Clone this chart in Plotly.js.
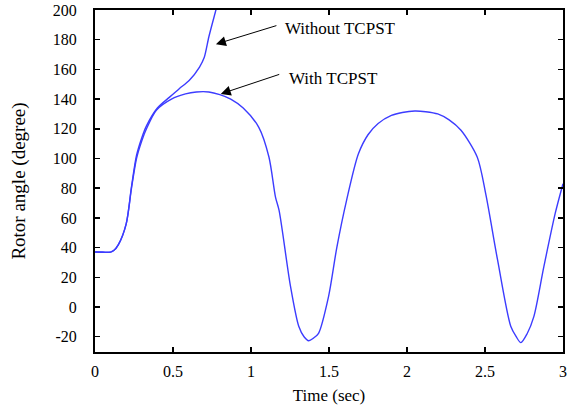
<!DOCTYPE html>
<html>
<head>
<meta charset="utf-8">
<script src="https://cdn.plot.ly/plotly-3.0.1.min.js"></script>
<style>html,body{margin:0;padding:0;background:#fff;}#chart{width:568px;height:408px;}</style>
</head>
<body>
<div id="chart"></div>
<script>
// Time (sec) and rotor angle (degree)
const tWith = [0, 0.05, 0.1, 0.12, 0.15, 0.2, 0.234, 0.266, 0.3, 0.33, 0.393, 0.49, 0.58, 0.65, 0.73, 0.8, 0.87, 0.95, 1.05, 1.115, 1.157, 1.18, 1.253, 1.306, 1.34, 1.37, 1.4, 1.433, 1.497, 1.55, 1.613, 1.688, 1.75, 1.815, 1.9, 1.97, 2.05, 2.12, 2.197, 2.27, 2.346, 2.45, 2.505, 2.58, 2.665, 2.7, 2.73, 2.77, 2.813, 2.877, 2.95, 3.0];
const vWith = [37, 37, 37, 38, 42, 56, 80, 100, 112, 120, 132.5, 140, 143.5, 144.8, 144.8, 143, 140, 134, 121, 101, 74, 65, 14, -13, -20, -22.7, -21, -17.7, 7, 40, 72, 103, 116, 123.6, 129, 131, 132, 131.5, 130, 126, 119, 101, 76, 32, -13, -20, -24, -18, -6.5, 27, 63, 83];
const tWithout = [0, 0.1, 0.12, 0.15, 0.2, 0.234, 0.266, 0.3, 0.33, 0.4, 0.48, 0.54, 0.605, 0.67, 0.7, 0.73, 0.775, 0.8];
const vWithout = [37, 37, 38, 42, 56, 81, 102, 114, 122, 134, 141.5, 147, 152.7, 161.6, 168, 182, 200, 210];
const xTicks = [0, 0.5, 1, 1.5, 2, 2.5, 3];
const xTickText = ['0', '0.5', '1', '1.5', '2', '2.5', '3'];
const yTicks = [-20, 0, 20, 40, 60, 80, 100, 120, 140, 160, 180, 200];
const yTickText = ['-20', '0', '20', '40', '60', '80', '100', '120', '140', '160', '180', '200'];

const blue = 'rgb(60,60,255)';
const fam = '"Liberation Serif", "DejaVu Serif", serif';
const tickFont = {family: fam, size: 16, color: '#000'};
const textFont = {family: fam, size: 17, color: '#000'};

const traces = [
  {x: tWithout, y: vWithout, mode: 'lines', line: {color: blue, width: 1.4, shape: 'spline', smoothing: 0.8}, name: 'Without TCPST'},
  {x: tWith, y: vWith, mode: 'lines', line: {color: blue, width: 1.4, shape: 'spline', smoothing: 0.8}, name: 'With TCPST'}
];

const axisCommon = {
  showgrid: false, zeroline: false, showline: true, mirror: 'ticks',
  linecolor: '#000', linewidth: 2, ticks: 'inside', ticklen: 5, tickwidth: 1.5, tickcolor: '#000',
  tickfont: tickFont, ticklabeloverflow: 'allow'
};

const layout = {
  width: 568, height: 408,
  margin: {l: 95, r: 5, t: 10, b: 56},
  paper_bgcolor: '#fff', plot_bgcolor: '#fff',
  showlegend: false,
  font: textFont,
  xaxis: Object.assign({}, axisCommon, {
    range: [0, 3], tickvals: xTicks, ticktext: xTickText, ticklabelstandoff: 4,
    title: {text: 'Time (sec)', font: textFont, standoff: 10}
  }),
  yaxis: Object.assign({}, axisCommon, {
    range: [-30.3, 200], tickvals: yTicks, ticktext: yTickText, ticklabelstandoff: 13,
    title: {text: 'Rotor angle (degree)', font: {family: fam, size: 19, color: '#000'}, standoff: 22}
  }),
  annotations: [
    {x: 0.775, y: 177, xref: 'x', yref: 'y', ax: 62, ay: -19, text: '', showarrow: true,
     arrowhead: 2, arrowsize: 2, arrowwidth: 1, arrowcolor: '#000'},
    {x: 0.806, y: 143.5, xref: 'x', yref: 'y', ax: 60, ay: -20, text: '', showarrow: true,
     arrowhead: 2, arrowsize: 2, arrowwidth: 1, arrowcolor: '#000'},
    {x: 1.204, y: 187.7, xref: 'x', yref: 'y', xanchor: 'left', yanchor: 'middle', text: 'Without TCPST', showarrow: false, font: textFont},
    {x: 1.229, y: 154, xref: 'x', yref: 'y', xanchor: 'left', yanchor: 'middle', text: 'With TCPST', showarrow: false, font: textFont}
  ]
};

Plotly.newPlot('chart', traces, layout, {displayModeBar: false, staticPlot: true});
</script>
</body>
</html>
